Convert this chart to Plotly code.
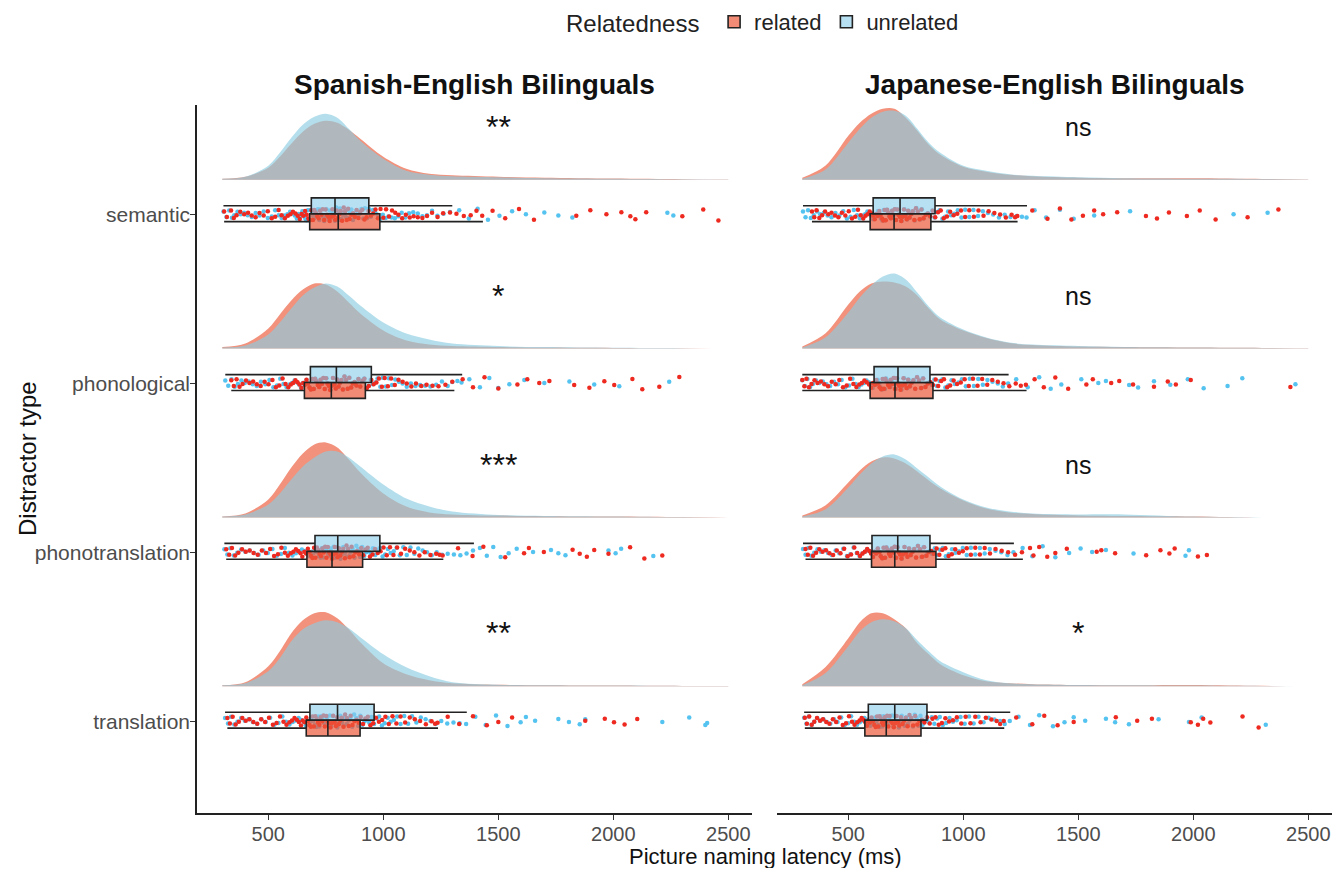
import plotly.graph_objects as go

# ---------------- data ----------------
categories = ["semantic", "phonological", "phonotranslation", "translation"]
panel_titles = ["Spanish-English Bilinguals", "Japanese-English Bilinguals"]
relatedness = ["related", "unrelated"]
x_ticks = [500, 1000, 1500, 2000, 2500]
sig_es = ["**", "*", "***", "**"]
sig_ja = ["ns", "ns", "ns", "*"]

# density curves (relative height) evaluated at these latencies (ms)
grid_ms = [300, 400, 500, 550, 600, 650, 700, 750, 800, 850, 900, 1000, 1100, 1200, 1300, 1500, 1700, 2000, 2300, 2500]

dens_es_related = [
    [1, 3, 12, 23, 36, 48, 56, 59, 57, 50, 41, 23, 11, 6, 4.5, 3, 2, 1.2, 0.6, 0.3],
    [1.5, 5, 20, 34, 48, 59, 65, 64, 57, 46, 35, 18, 8, 4, 2.5, 1.5, 1, 0.7, 0.3, 0],
    [1, 4, 18, 33, 50, 64, 73, 75, 70, 58, 45, 24, 11, 5, 3, 1.8, 1.2, 0.8, 0.3, 0],
    [1, 4, 20, 35, 53, 66, 73, 74, 68, 57, 44, 23, 12, 6, 3, 1.5, 1, 0.7, 0.3, 0.2],
]
dens_es_unrelated = [
    [1, 3, 14, 27, 42, 55, 63, 66, 62, 51, 39, 21, 9, 5, 3.5, 2.5, 1.5, 1, 0.5, 0.3],
    [1, 3, 14, 26, 40, 53, 61, 65, 62, 53, 43, 26, 15, 9, 5, 2.5, 1.5, 0.8, 0.4, 0],
    [1, 3, 13, 24, 38, 51, 60, 66, 66, 60, 51, 33, 19, 11, 6, 2.5, 1.5, 1, 0.4, 0],
    [1, 3, 15, 28, 45, 57, 63, 66, 64, 58, 49, 32, 19, 10, 4, 1.5, 1, 0.6, 0.3, 0.2],
]
dens_ja_related = [
    [2, 14, 44, 57, 66, 71, 71, 62, 49, 35, 25, 13, 8, 5, 3.5, 2, 1.5, 1.5, 0.8, 0.3],
    [2, 15, 44, 57, 65, 67, 66, 62, 53, 40, 29, 18, 10.5, 5.5, 3.5, 2, 1.5, 1, 0.6, 0.3],
    [2, 12, 35, 47, 56, 60, 59, 54, 46, 37, 29, 17, 9, 5, 3.5, 2, 1.5, 1, 0, 0],
    [2, 19, 48, 64, 73, 73, 67, 58, 43, 32, 22, 11, 5, 3, 2, 1.2, 1, 1.3, 0.4, 0],
]
dens_ja_unrelated = [
    [1, 10, 37, 51, 62, 68, 69, 64, 51, 37, 27, 14, 9, 5.5, 4, 2.5, 1.5, 1, 0.8, 0.3],
    [1, 11, 36, 51, 63, 72, 75, 69, 56, 42, 31, 19, 11, 6, 4, 2.5, 1.5, 1, 0.6, 0.3],
    [1, 8, 30, 43, 54, 61, 63, 58, 49, 40, 31, 18, 10, 6, 4, 3, 3, 0.8, 0, 0],
    [1, 13, 40, 55, 64, 67, 65, 58, 46, 35, 25, 14, 6, 3, 2, 1.2, 1, 0.7, 0.3, 0],
]

# box statistics (ms), ordered as categories
es_rel_lf = [308, 339, 317, 322]
es_rel_q1 = [680, 657, 668, 665]
es_rel_med = [804, 774, 777, 759]
es_rel_q3 = [985, 922, 910, 899]
es_rel_uf = [1433, 1309, 1261, 1238]

es_unr_lf = [305, 313, 309, 312]
es_unr_q1 = [687, 683, 703, 681]
es_unr_med = [790, 796, 802, 801]
es_unr_q3 = [937, 948, 985, 960]
es_unr_uf = [1300, 1343, 1394, 1363]

ja_rel_lf = [342, 300, 314, 311]
ja_rel_q1 = [595, 595, 601, 572]
ja_rel_med = [699, 703, 702, 665]
ja_rel_q3 = [859, 868, 881, 816]
ja_rel_uf = [1236, 1275, 1259, 1178]

ja_unr_lf = [303, 300, 303, 308]
ja_unr_q1 = [608, 612, 603, 587]
ja_unr_med = [725, 716, 715, 702]
ja_unr_q3 = [877, 855, 855, 842]
ja_unr_uf = [1277, 1197, 1220, 1204]

# individual latencies (ms)
pts_es_sem_rel = [308, 338, 362, 395, 428, 462, 498, 530, 558, 585, 607, 628, 645, 660, 674, 688, 700, 713, 725, 737, 749, 761, 773, 785, 797, 809, 821, 834, 847, 861, 876, 892, 909, 927, 946, 966, 988, 1012, 1038, 1066, 1098, 1132, 1170, 1212, 1260, 1318, 1380, 1430,
                  320, 350, 378, 412, 445, 480, 515, 545, 572, 596, 618, 637, 652, 667, 681, 694, 706, 719, 731, 743, 755, 767, 779, 791, 803, 815, 828, 841, 854, 869, 884, 900, 918, 936, 956, 977, 1000, 1025, 1052, 1082, 1115, 1150, 1190, 1236, 1290, 1350, 1405,
                  1475, 1530, 1590, 1655, 1839, 1900, 1970, 2035, 2074, 2096, 2143, 2300, 2391, 2457]
pts_es_sem_unr = [305, 330, 352, 380, 410, 445, 480, 515, 545, 570, 595, 615, 632, 648, 660, 672, 684, 695, 705, 716, 727, 738, 748, 758, 768, 779, 790, 801, 812, 824, 836, 848, 861, 875, 890, 905, 920, 937, 955, 975, 998, 1022, 1050, 1080, 1112, 1150, 1190, 1235, 1290,
                  318, 342, 366, 395, 428, 462, 498, 530, 558, 583, 605, 624, 640, 654, 666, 678, 690, 700, 711, 722, 733, 743, 753, 763, 774, 785, 796, 807, 818, 830, 842, 855, 868, 883, 898, 913, 929, 946, 965, 987, 1010, 1036, 1065, 1096, 1130, 1170, 1212, 1262,
                  1330, 1372, 1410, 1455, 1505, 1560, 1620, 1700, 1761, 1822, 2235, 2261]
pts_es_pho_rel = [339, 362, 388, 418, 450, 484, 518, 548, 575, 598, 618, 636, 652, 666, 679, 691, 703, 715, 727, 739, 751, 763, 775, 787, 799, 811, 824, 838, 852, 867, 883, 900, 918, 937, 958, 981, 1006, 1034, 1066, 1102, 1142, 1188, 1240, 1300,
                  350, 375, 403, 434, 467, 501, 533, 562, 587, 608, 627, 644, 659, 672, 685, 697, 709, 721, 733, 745, 757, 769, 781, 793, 805, 818, 831, 845, 860, 875, 892, 909, 928, 948, 970, 994, 1020, 1050, 1084, 1122, 1165, 1214, 1270,
                  1345, 1390, 1440, 1500, 1583, 1626, 1678, 1722, 1830, 1896, 1961, 2004, 2083, 2126, 2200, 2287]
pts_es_pho_unr = [313, 340, 368, 398, 432, 468, 505, 538, 566, 592, 614, 634, 651, 666, 680, 693, 705, 717, 729, 741, 753, 765, 777, 789, 801, 813, 826, 839, 853, 868, 884, 900, 917, 935, 954, 975, 998, 1024, 1052, 1084, 1120, 1160, 1205, 1255, 1300, 1340,
                  326, 354, 383, 415, 450, 487, 522, 552, 579, 603, 624, 642, 658, 673, 686, 699, 711, 723, 735, 747, 759, 771, 783, 795, 807, 819, 832, 846, 861, 876, 892, 909, 926, 945, 965, 987, 1011, 1038, 1068, 1102, 1140, 1182, 1230, 1280, 1322,
                  1374, 1420, 1461, 1500, 1548, 1613, 1700, 1809, 1917, 2026, 2243]
pts_es_pt_rel = [317, 342, 370, 402, 436, 472, 508, 542, 572, 598, 620, 640, 657, 672, 686, 699, 711, 723, 735, 747, 759, 771, 783, 795, 807, 820, 833, 847, 862, 878, 895, 913, 932, 953, 976, 1001, 1029, 1060, 1095, 1135, 1180, 1230, 1258,
                 330, 356, 386, 419, 454, 490, 525, 557, 585, 609, 630, 648, 664, 679, 692, 705, 717, 729, 741, 753, 765, 777, 789, 801, 813, 826, 840, 854, 870, 886, 904, 922, 942, 964, 988, 1015, 1044, 1077, 1115, 1157, 1205, 1245,
                 1325, 1388, 1435, 1530, 1612, 1633, 1698, 1823, 1854, 1885, 1917, 1979, 2073, 2135, 2213]
pts_es_pt_unr = [309, 335, 365, 400, 438, 478, 518, 555, 590, 620, 646, 668, 688, 705, 720, 734, 747, 760, 772, 784, 796, 808, 820, 833, 846, 860, 875, 891, 908, 926, 945, 965, 986, 1008, 1032, 1058, 1087, 1118, 1152, 1190, 1232, 1280, 1335, 1390,
                 322, 350, 382, 419, 458, 498, 537, 572, 605, 633, 657, 678, 696, 712, 727, 740, 753, 766, 778, 790, 802, 814, 826, 839, 853, 867, 883, 899, 917, 935, 955, 975, 997, 1020, 1045, 1072, 1102, 1135, 1171, 1211, 1256, 1307, 1362,
                 1420, 1450, 1478, 1510, 1545, 1580, 1651, 1729, 1761, 1792, 1979, 2010, 2034, 2174]
pts_es_tr_rel = [322, 345, 372, 402, 435, 469, 503, 536, 566, 592, 614, 633, 650, 665, 679, 692, 704, 716, 728, 740, 752, 764, 776, 788, 800, 813, 827, 842, 858, 875, 893, 912, 933, 956, 981, 1009, 1040, 1075, 1115, 1160, 1210, 1236,
                 333, 358, 387, 418, 452, 486, 520, 551, 579, 603, 624, 642, 657, 672, 685, 698, 710, 722, 734, 746, 758, 770, 782, 794, 806, 820, 834, 850, 866, 884, 902, 922, 944, 968, 995, 1024, 1057, 1095, 1137, 1185, 1225,
                 1280, 1330, 1390, 1450, 1500, 1560, 1878, 1963, 2003, 2049, 2104]
pts_es_tr_unr = [312, 338, 366, 398, 433, 470, 508, 544, 577, 606, 632, 654, 672, 688, 702, 716, 729, 742, 755, 768, 781, 794, 807, 820, 834, 849, 865, 882, 900, 919, 939, 960, 982, 1006, 1032, 1060, 1091, 1125, 1163, 1205, 1252, 1305, 1360,
                 325, 352, 382, 415, 451, 489, 526, 561, 592, 619, 643, 663, 680, 695, 709, 722, 735, 748, 761, 774, 787, 800, 813, 827, 841, 857, 873, 891, 909, 929, 949, 971, 994, 1019, 1046, 1075, 1108, 1144, 1184, 1228, 1278, 1332,
                 1400, 1445, 1490, 1540, 1597, 1620, 1660, 1761, 1807, 1854, 1878, 2213, 2330, 2400, 2408]

pts_ja_sem_rel = [342, 362, 386, 413, 442, 472, 502, 530, 554, 575, 593, 608, 622, 635, 647, 658, 669, 680, 691, 702, 713, 724, 736, 748, 760, 773, 787, 802, 818, 836, 856, 878, 902, 929, 958, 990, 1026, 1066, 1110, 1160, 1210, 1235,
                  352, 374, 399, 427, 457, 487, 516, 542, 565, 584, 601, 615, 628, 641, 652, 663, 674, 685, 696, 707, 718, 730, 742, 754, 766, 780, 794, 810, 827, 846, 867, 890, 915, 943, 974, 1008, 1046, 1088, 1135, 1185, 1225,
                  1300, 1366, 1420, 1470, 1520, 1569, 1608, 1669, 1794, 1842, 1894, 1972, 2028, 2097, 2236, 2370]
pts_ja_sem_unr = [303, 325, 350, 378, 410, 444, 478, 510, 538, 562, 583, 600, 615, 629, 642, 654, 666, 678, 690, 702, 714, 726, 738, 750, 762, 775, 789, 804, 820, 837, 855, 875, 897, 921, 947, 976, 1008, 1044, 1085, 1130, 1180, 1232, 1275,
                  314, 337, 364, 394, 427, 461, 494, 524, 550, 573, 592, 608, 622, 635, 648, 660, 672, 684, 696, 708, 720, 732, 744, 756, 768, 782, 796, 812, 828, 846, 865, 886, 909, 934, 961, 992, 1026, 1064, 1107, 1155, 1205, 1255,
                  1310, 1360, 1420, 1480, 1569, 1725, 2175, 2323]
pts_ja_pho_rel = [300, 318, 340, 366, 396, 428, 461, 493, 522, 548, 570, 590, 607, 622, 636, 649, 661, 673, 685, 697, 709, 721, 733, 746, 760, 775, 791, 808, 826, 846, 868, 891, 916, 943, 973, 1006, 1042, 1082, 1126, 1175, 1228, 1272,
                  309, 329, 353, 381, 412, 445, 477, 508, 535, 559, 580, 599, 615, 629, 643, 655, 667, 679, 691, 703, 715, 727, 740, 753, 767, 783, 799, 817, 836, 857, 880, 904, 930, 958, 989, 1024, 1062, 1104, 1150, 1200, 1250,
                  1310, 1350, 1400, 1456, 1535, 1563, 1643, 1678, 1738, 1829, 1889, 1924, 1989, 2422]
pts_ja_pho_unr = [300, 322, 346, 374, 405, 438, 471, 503, 532, 557, 579, 598, 614, 628, 641, 653, 665, 677, 689, 701, 713, 725, 737, 749, 762, 776, 791, 807, 824, 843, 863, 885, 909, 935, 963, 994, 1028, 1065, 1105, 1150, 1195,
                  311, 334, 360, 389, 421, 455, 487, 518, 545, 568, 589, 606, 621, 635, 647, 659, 671, 683, 695, 707, 719, 731, 743, 756, 769, 784, 799, 816, 834, 853, 874, 897, 922, 949, 979, 1011, 1046, 1085, 1127, 1172,
                  1230, 1280, 1330, 1380, 1426, 1513, 1587, 1620, 1721, 1760, 1829, 1900, 1976, 2045, 2149, 2213, 2444]
pts_ja_pt_rel = [314, 335, 360, 388, 418, 450, 482, 512, 539, 562, 582, 599, 614, 628, 641, 653, 665, 677, 689, 701, 713, 725, 737, 750, 764, 779, 795, 812, 830, 850, 872, 896, 922, 950, 981, 1015, 1052, 1093, 1140, 1195, 1255,
                 324, 347, 374, 403, 434, 466, 497, 526, 551, 572, 591, 607, 621, 635, 647, 659, 671, 683, 695, 707, 719, 731, 744, 757, 771, 787, 803, 821, 840, 861, 884, 909, 936, 965, 998, 1033, 1072, 1116, 1167, 1225,
                 1290, 1305, 1330, 1365, 1400, 1450, 1580, 1600, 1660, 1795, 1857, 1896, 1919, 2020, 2059]
pts_ja_pt_unr = [303, 326, 352, 381, 412, 445, 478, 509, 537, 561, 582, 600, 615, 629, 642, 655, 667, 679, 691, 703, 715, 727, 739, 752, 765, 779, 794, 810, 827, 845, 865, 887, 911, 937, 966, 998, 1033, 1072, 1115, 1165, 1218,
                 314, 339, 366, 396, 428, 461, 494, 523, 549, 572, 591, 608, 622, 636, 649, 661, 673, 685, 697, 709, 721, 733, 745, 758, 772, 786, 802, 818, 836, 855, 876, 899, 924, 951, 982, 1015, 1052, 1093, 1140, 1192,
                 1258, 1300, 1345, 1400, 1460, 1510, 1560, 1620, 1740, 1966, 1981]
pts_ja_tr_rel = [311, 330, 352, 377, 404, 433, 462, 490, 516, 539, 558, 574, 588, 601, 613, 625, 636, 647, 658, 669, 680, 692, 704, 716, 729, 743, 758, 774, 791, 810, 831, 854, 879, 907, 938, 972, 1010, 1052, 1098, 1145, 1176,
                 320, 341, 364, 390, 418, 447, 476, 503, 527, 549, 566, 581, 594, 607, 619, 630, 641, 652, 663, 674, 686, 698, 710, 722, 736, 750, 766, 782, 800, 820, 842, 866, 893, 922, 955, 991, 1031, 1075, 1122, 1160,
                 1230, 1300, 1352, 1410, 1480, 1663, 1756, 1820, 1989, 2020, 2043, 2074, 2214, 2284]
pts_ja_tr_unr = [308, 328, 352, 378, 407, 438, 469, 499, 526, 550, 570, 588, 603, 617, 630, 642, 654, 666, 678, 690, 702, 714, 726, 739, 752, 766, 781, 797, 814, 832, 852, 874, 898, 925, 955, 988, 1025, 1066, 1110, 1160, 1202,
                 318, 340, 365, 392, 422, 453, 484, 512, 538, 560, 579, 596, 610, 623, 636, 648, 660, 672, 684, 696, 708, 720, 732, 745, 759, 773, 789, 805, 823, 842, 863, 886, 911, 940, 971, 1006, 1045, 1088, 1135, 1180,
                 1240, 1290, 1330, 1390, 1440, 1480, 1530, 1620, 1660, 1720, 1849, 1981, 2036, 2315]

# ---------------- styling / layout ----------------
FONT = "Liberation Sans, Arial, sans-serif"
PAGE_OFF = 8            # default body margin of the html page
W, H = 1328, 860
COL_DENS = {"related": "rgba(238,110,80,0.75)", "unrelated": "rgba(140,205,225,0.65)"}
COL_BOX = {"related": "rgba(236,90,60,0.7)", "unrelated": "rgba(140,205,235,0.62)"}
COL_PT = {"related": "#EE2A20", "unrelated": "#55C3F0"}
DENS_BASE = 0.207
DENS_SCALE = 1 / 168.8
BOX_OFF = {"related": -0.041, "unrelated": 0.053}
BOX_W = 0.094
PT_OFF = 0.004
PT_W = 0.085


def px(X):
    return (X - PAGE_OFF) / W


def py(Y):
    return 1 - (Y - PAGE_OFF) / H


positions = [len(categories) - i for i in range(len(categories))]

fig = go.Figure()

panels = [
    dict(xa="x", ya="y",
         dens={"related": dens_es_related, "unrelated": dens_es_unrelated},
         stats={"related": (es_rel_lf, es_rel_q1, es_rel_med, es_rel_q3, es_rel_uf),
                "unrelated": (es_unr_lf, es_unr_q1, es_unr_med, es_unr_q3, es_unr_uf)},
         pts={"related": [pts_es_sem_rel, pts_es_pho_rel, pts_es_pt_rel, pts_es_tr_rel],
              "unrelated": [pts_es_sem_unr, pts_es_pho_unr, pts_es_pt_unr, pts_es_tr_unr]},
         sig=sig_es),
    dict(xa="x2", ya="y2",
         dens={"related": dens_ja_related, "unrelated": dens_ja_unrelated},
         stats={"related": (ja_rel_lf, ja_rel_q1, ja_rel_med, ja_rel_q3, ja_rel_uf),
                "unrelated": (ja_unr_lf, ja_unr_q1, ja_unr_med, ja_unr_q3, ja_unr_uf)},
         pts={"related": [pts_ja_sem_rel, pts_ja_pho_rel, pts_ja_pt_rel, pts_ja_tr_rel],
              "unrelated": [pts_ja_sem_unr, pts_ja_pho_unr, pts_ja_pt_unr, pts_ja_tr_unr]},
         sig=sig_ja),
]

for pi, P in enumerate(panels):
    # densities (related below, unrelated above)
    for rel in relatedness:
        for ci, pos in enumerate(positions):
            base = pos + DENS_BASE
            fig.add_trace(go.Scatter(x=[grid_ms[0], grid_ms[-1]], y=[base, base], mode="lines",
                                     line=dict(width=0, color="rgba(0,0,0,0)"), showlegend=False,
                                     hoverinfo="skip", xaxis=P["xa"], yaxis=P["ya"]))
            fig.add_trace(go.Scatter(x=grid_ms, y=[base + d * DENS_SCALE for d in P["dens"][rel][ci]],
                                     mode="lines", line=dict(width=0, shape="spline", smoothing=0.9,
                                                             color=COL_DENS[rel]),
                                     fill="tonexty", fillcolor=COL_DENS[rel], showlegend=False,
                                     hoverinfo="skip", xaxis=P["xa"], yaxis=P["ya"]))
    # jittered raw points (unrelated first, related on top); body and outliers jittered separately
    for ci, pos in enumerate(positions):
        for rel in ("unrelated", "related"):
            uf = P["stats"][rel][4][ci]
            vals = P["pts"][rel][ci]
            for part in ([v for v in vals if v <= uf], [v for v in vals if v > uf]):
                if not part:
                    continue
                fig.add_trace(go.Box(x=part, y0=pos + PT_OFF, orientation="h",
                                     boxpoints="all", jitter=1, pointpos=0, width=PT_W,
                                     fillcolor="rgba(0,0,0,0)", line=dict(color="rgba(0,0,0,0)", width=0),
                                     marker=dict(color=COL_PT[rel], size=4.5, line=dict(width=0)),
                                     showlegend=False, hoverinfo="x", xaxis=P["xa"], yaxis=P["ya"]))
    # boxplots
    for rel in relatedness:
        lf, q1, med, q3, uf = P["stats"][rel]
        fig.add_trace(go.Box(y=[p + BOX_OFF[rel] for p in positions], q1=q1, median=med, q3=q3,
                             lowerfence=lf, upperfence=uf, orientation="h", width=BOX_W,
                             fillcolor=COL_BOX[rel], line=dict(color="#222222", width=1.6),
                             whiskerwidth=0, boxpoints=False, name=rel, legendgroup=rel,
                             showlegend=(pi == 0), xaxis=P["xa"], yaxis=P["ya"]))
    # significance labels
    for ci, pos in enumerate(positions):
        lab = P["sig"][ci]
        fig.add_annotation(x=1500, y=pos + 0.52, xref=P["xa"], yref=P["ya"], text=lab,
                           showarrow=False,
                           font=dict(size=32 if lab.startswith("*") else 25, color="#111111", family=FONT),
                           xanchor="center", yanchor="middle")

x_common = dict(range=[190, 2603], tickvals=x_ticks, ticks="outside", ticklen=5, tickwidth=1.3,
                tickcolor="#333333", showline=True, linecolor="#222222", linewidth=1.5,
                ticklabelstandoff=-3,
                showgrid=False, zeroline=False, tickfont=dict(size=20, color="#4D4D4D", family=FONT))
y_range = [0.456, 4.65]

fig.update_layout(
    width=W, height=H, margin=dict(l=0, r=0, t=0, b=0, autoexpand=False),
    paper_bgcolor="white", plot_bgcolor="white",
    boxmode="overlay",
    font=dict(family=FONT, color="#222222"),
    xaxis=dict(domain=[px(197), px(752)], anchor="y", **x_common),
    xaxis2=dict(domain=[px(777), px(1332)], anchor="y2", **x_common),
    yaxis=dict(domain=[py(813), py(105)], range=y_range, tickvals=positions,
               ticktext=categories, ticks="outside", ticklen=5, tickwidth=1.3, tickcolor="#333333",
               ticklabelstandoff=-4,
               showline=True, linecolor="#222222", linewidth=1.5, showgrid=False, zeroline=False,
               tickfont=dict(size=21, color="#4D4D4D", family=FONT), anchor="x"),
    yaxis2=dict(domain=[py(813), py(105)], range=y_range, matches="y", showline=False,
                showticklabels=False, ticks="", showgrid=False, zeroline=False, anchor="x2"),
    legend=dict(orientation="h", x=px(764), xanchor="center", y=py(22), yanchor="middle",
                title=dict(text="Relatedness ", side="left", font=dict(size=24, family=FONT, color="#222222")),
                font=dict(size=22, family=FONT, color="#222222"), bgcolor="rgba(0,0,0,0)"),
)

annots = [
    dict(x=px(474.5), y=py(85), text="<b>" + panel_titles[0] + "</b>", font=dict(size=28)),
    dict(x=px(1054.5), y=py(85), text="<b>" + panel_titles[1] + "</b>", font=dict(size=28)),
    dict(x=px(28), y=py(459), text="Distractor type", textangle=-90, font=dict(size=24)),
    dict(x=px(765), y=py(856), text="Picture naming latency (ms)", font=dict(size=22)),
]
for a in annots:
    a["font"].update(family=FONT, color="#111111")
    fig.add_annotation(xref="paper", yref="paper", showarrow=False, xanchor="center", yanchor="middle", **a)

fig.write_html("out.html")
